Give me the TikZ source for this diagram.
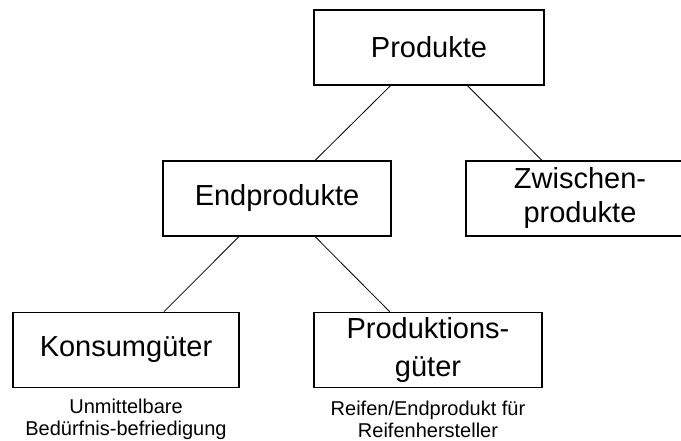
\documentclass[tikz,border=0pt]{standalone}
\usepackage{fontspec}
\setmainfont{Liberation Sans}
\usetikzlibrary{calc}
\begin{document}
\begin{tikzpicture}[x=1pt,y=-1pt,
  box/.style={draw=black, line width=1.6pt, minimum height=75pt, inner sep=0pt,
    align=center, font=\fontsize{29}{34}\selectfont},
  note/.style={inner sep=0pt, align=center, font=\fontsize{20}{22}\selectfont},
  link/.style={draw=black, line width=0.8pt}]
\useasboundingbox (0,0) rectangle (681,441);
\clip (0,0) rectangle (681,441);

% boxes of the hierarchy
\node[box, minimum width=230pt] (prod) at (429,47.5) {Produkte};
\node[box, minimum width=228pt] (endp) at (277,198.5) {Endprodukte};
\node[box, minimum width=228pt] (zwis) at (580,198.5) {Zwischen-\\produkte};
\node[box, minimum width=226pt] (kons) at (126,350) {Konsumgüter};
\node[box, minimum width=228pt, font=\fontsize{29}{38}\selectfont] (pgut) at (428,350) {Produktions-\\güter};

% explanatory notes
\node[note] (konsnote) at (126,419) {Unmittelbare\\Bedürfnis-befriedigung};
\node[note] (pgutnote) at (428,419) {Reifen/Endprodukt für\\Reifenhersteller};

% connectors
\draw[link] ($(prod.south west)!1/3!(prod.south east)$) -- ($(endp.north west)!2/3!(endp.north east)$);
\draw[link] ($(prod.south west)!2/3!(prod.south east)$) -- ($(zwis.north west)!1/3!(zwis.north east)$);
\draw[link] ($(endp.south west)!1/3!(endp.south east)$) -- ($(kons.north west)!2/3!(kons.north east)$);
\draw[link] ($(endp.south west)!2/3!(endp.south east)$) -- ($(pgut.north west)!1/3!(pgut.north east)$);
\end{tikzpicture}
\end{document}
